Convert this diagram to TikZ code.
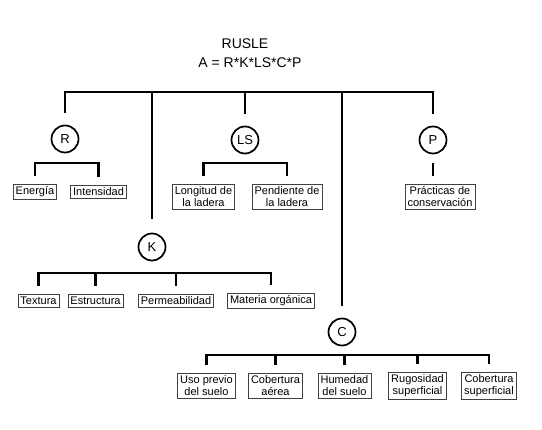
\documentclass[tikz,border=0pt]{standalone}
\usepackage{fontspec}
\setmainfont{Liberation Sans}
\usetikzlibrary{calc}

\tikzset{every picture/.style={line width=0.75pt}}
\tikzset{
  tree/.style={line width=2.8pt},
  factor/.style={circle, draw, line width=1.7pt, minimum size=27pt, inner sep=0pt, font=\fontsize{13}{13}\selectfont},
  leaf/.style={draw=black!75, line width=0.6pt, fill=white, align=center, inner xsep=2.5pt, inner ysep=2.5pt,
    font=\fontsize{11}{12}\selectfont},
  title/.style={font=\fontsize{14}{14}\selectfont}
}

\begin{document}
\begin{tikzpicture}[x=1pt,y=1pt,yscale=-1,xscale=1]
\useasboundingbox (0,0) rectangle (542,430);

% Text Node
\node[title] (rusle) at (245,44) {RUSLE};
% Text Node
\node[title] (formula) at (250,63) {A = R*K*LS*C*P};

%Circle nodes
\node[factor] (R) at (65,139) {R};
\node[factor] (LS) at (245,140) {LS};
\node[factor] (P) at (433,140) {P};
\node[factor] (K) at (152,247) {K};
\node[factor] (C) at (342,332) {C};

%Box nodes
\node[leaf] (energia) at (35,191.5) {Energía};
\node[leaf] (intensidad) at (98.5,191.5) {Intensidad};
\node[leaf] (longitud) at (203.5,196.5) {Longitud de\\la ladera};
\node[leaf] (pendiente) at (287,196.5) {Pendiente de\\la ladera};
\node[leaf] (practicas) at (440,196.5) {Prácticas de\\conservación};
\node[leaf] (textura) at (38.5,300.5) {Textura};
\node[leaf] (estructura) at (95.5,300.5) {Estructura};
\node[leaf] (permeab) at (176,300.5) {Permeabilidad};
\node[leaf] (materia) at (271,300.5) {Materia orgánica};
\node[leaf] (uso) at (206.5,385.5) {Uso previo\\del suelo};
\node[leaf] (aerea) at (275.5,385.5) {Cobertura\\aérea};
\node[leaf] (humedad) at (344.5,385.5) {Humedad\\del suelo};
\node[leaf] (rugosidad) at (417.5,385.5) {Rugosidad\\superficial};
\node[leaf] (superf) at (489,385.5) {Cobertura\\superficial};

%Bar levels
\coordinate (topbar) at (245,92);
\coordinate (upbar) at (245,163);
\coordinate (kbar) at (150,273);
\coordinate (cbar) at (345,355);

%Main bar
\draw[tree] ($(R.north)+(0,-12)$) |- (topbar) -| ($(P.north)+(0,-12)$);
\draw[tree] (LS.north |- topbar) -- ($(LS.north)+(0,-12)$);
\draw[tree] (K.north |- topbar) -- ($(K.north)+(0,-14)$);
\draw[tree] (C.north |- topbar) -- ($(C.north)+(0,-12)$);

%R branch
\draw[tree] ($(energia.north)+(0,-8)$) |- (upbar -| R) -| ($(intensidad.north)+(0,-8)$);
%LS branch
\draw[tree] ($(longitud.north)+(0,-8)$) |- (upbar -| LS) -| ($(pendiente.north)+(0,-8)$);
%P branch
\draw[tree] (P |- upbar) -- (P |- {$(practicas.north)+(0,-8)$});

%K branch
\draw[tree] ($(textura.north)+(0,-8)$) |- (kbar) -| ($(materia.north)+(0,-8)$);
\foreach \b in {estructura,permeab}
  \draw[tree] (\b.north |- kbar) -- ($(\b.north)+(0,-8)$);

%C branch
\draw[tree] ($(uso.north)+(0,-8)$) |- (cbar) -| ($(superf.north)+(0,-8)$);
\foreach \b in {aerea,humedad,rugosidad}
  \draw[tree] (\b.north |- cbar) -- ($(\b.north)+(0,-8)$);

\end{tikzpicture}
\end{document}
